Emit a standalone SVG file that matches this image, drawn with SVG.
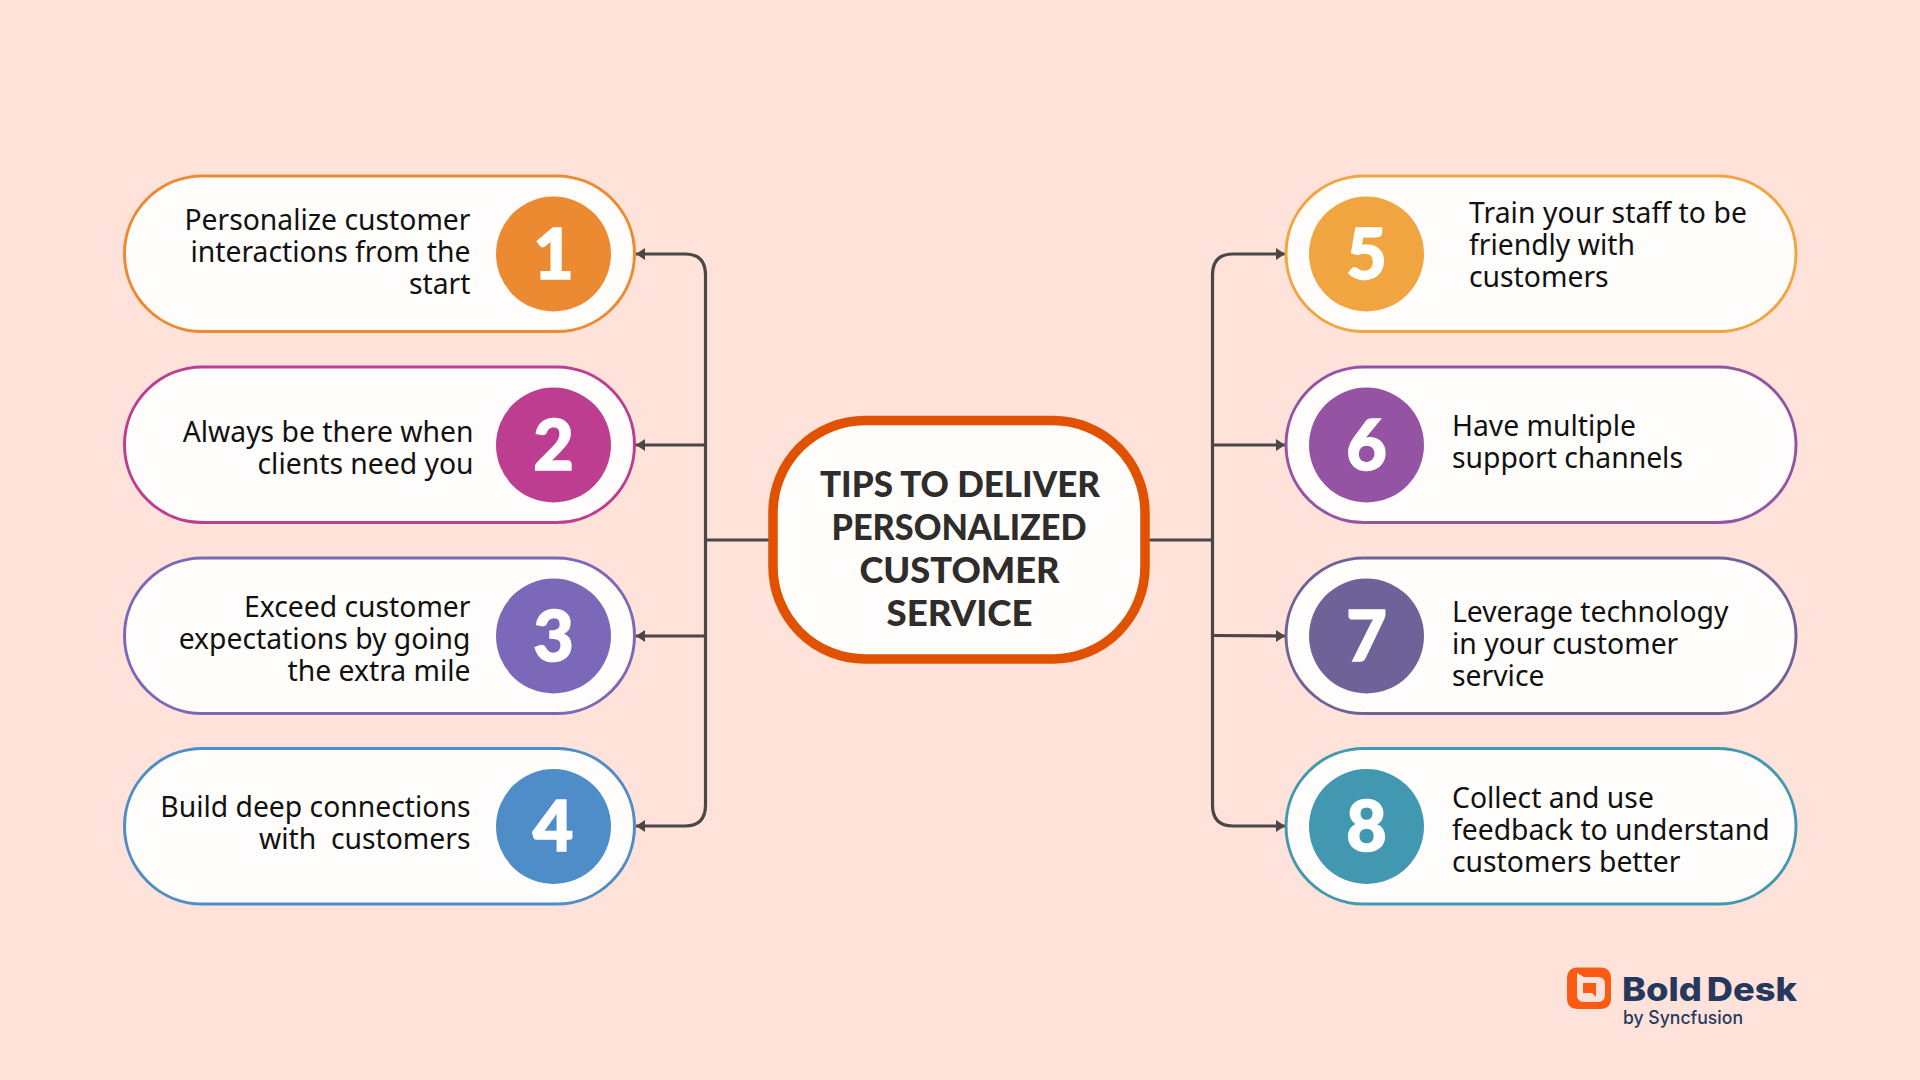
<svg xmlns="http://www.w3.org/2000/svg" width="1920" height="1080" viewBox="0 0 1920 1080">
<style>
.pill{fill:#fffdfb;stroke-width:3}
.t{font-family:"Noto Sans","Open Sans",sans-serif;font-size:28.300px;fill:#111}
.e{text-anchor:end}
.d{font-family:"Lato","Liberation Sans",sans-serif;font-weight:900;font-size:70px;fill:#fff;stroke:#fff;stroke-width:1.500;text-anchor:middle}
.h{font-family:"Lato","Liberation Sans",sans-serif;font-weight:900;font-size:36.500px;fill:#2f2d2c;text-anchor:middle}
.c{fill:none;stroke:#4a4746;stroke-width:3.200}
</style>
<defs>
<marker id="a" markerUnits="userSpaceOnUse" markerWidth="10" markerHeight="14" refX="9" refY="7" orient="auto"><path d="M0 1L9 7L0 13Z" fill="#4a4746"/></marker>
</defs>
<rect width="1920" height="1080" fill="#ffe2d9"/>
<g id="connectors">
<path class="c" d="M705.500 540H770"/>
<path class="c" d="M1148 540H1212.500"/>
<path class="c" d="M705.500 540V275Q705.500 254 685 254H636" marker-end="url(#a)"/>
<path class="c" d="M705.500 445H636" marker-end="url(#a)"/>
<path class="c" d="M705.500 636H636" marker-end="url(#a)"/>
<path class="c" d="M705.500 540V805Q705.500 826 685 826H636" marker-end="url(#a)"/>
<path class="c" d="M1212.500 540V275Q1212.500 254 1233 254H1285" marker-end="url(#a)"/>
<path class="c" d="M1212.500 445H1285" marker-end="url(#a)"/>
<path class="c" d="M1212.500 635.500L1285 636" marker-end="url(#a)"/>
<path class="c" d="M1212.500 540V805Q1212.500 826 1233 826H1285" marker-end="url(#a)"/>
</g>
<g id="center">
<rect x="773" y="420.500" width="372" height="238.500" rx="92" ry="92" fill="#fffdfb" stroke="#e05200" stroke-width="9.500"/>
<text class="h" x="960" y="496.500" textLength="280" lengthAdjust="spacingAndGlyphs">TIPS TO DELIVER</text>
<text class="h" x="959" y="539.500" textLength="255" lengthAdjust="spacingAndGlyphs">PERSONALIZED</text>
<text class="h" x="959.500" y="582.500" textLength="200" lengthAdjust="spacingAndGlyphs">CUSTOMER</text>
<text class="h" x="959.500" y="625.500" textLength="146" lengthAdjust="spacingAndGlyphs">SERVICE</text>
</g>
<g id="node1">
<rect class="pill" x="124.500" y="176" width="510" height="155.500" rx="77.750" stroke="#ec8a32"/>
<circle cx="553.500" cy="254" r="57.500" fill="#ec8a32"/>
<text class="d" x="553.500" y="278.500">1</text>
<text class="t e" x="470.500" y="230">Personalize customer</text>
<text class="t e" x="470.500" y="262">interactions from the</text>
<text class="t e" x="470.500" y="294">start</text>
</g>
<g id="node2">
<rect class="pill" x="124.500" y="367" width="510" height="155.500" rx="77.750" stroke="#bd3e91"/>
<circle cx="553.500" cy="445" r="57.500" fill="#bd3e91"/>
<text class="d" x="553.500" y="469.500">2</text>
<text class="t e" x="473.500" y="441.500">Always be there when</text>
<text class="t e" x="473.500" y="473.500">clients need you</text>
</g>
<g id="node3">
<rect class="pill" x="124.500" y="558" width="510" height="155.500" rx="77.750" stroke="#7b68b8"/>
<circle cx="553.500" cy="636" r="57.500" fill="#7b68b8"/>
<text class="d" x="553.500" y="660.500">3</text>
<text class="t e" x="470.500" y="616.500">Exceed customer</text>
<text class="t e" x="470.500" y="648.500">expectations by going</text>
<text class="t e" x="470.500" y="680.500">the extra mile</text>
</g>
<g id="node4">
<rect class="pill" x="124.500" y="748.500" width="510" height="155.500" rx="77.750" stroke="#4e8dc8"/>
<circle cx="553.500" cy="826.500" r="57.500" fill="#4e8dc8"/>
<text class="d" x="553" y="851">4</text>
<text class="t e" x="470.500" y="816.500">Build deep connections</text>
<text class="t e" x="470.500" y="848.500" xml:space="preserve">with  customers</text>
</g>
<g id="node5">
<rect class="pill" x="1286" y="176" width="510" height="155.500" rx="77.750" stroke="#f0a540"/>
<circle cx="1366.500" cy="254" r="57.500" fill="#f0a540"/>
<text class="d" x="1366.500" y="278.500">5</text>
<text class="t" x="1469" y="223" textLength="278" lengthAdjust="spacing">Train your staff to be</text>
<text class="t" x="1469" y="255">friendly with</text>
<text class="t" x="1469" y="287">customers</text>
</g>
<g id="node6">
<rect class="pill" x="1286" y="367" width="510" height="155.500" rx="77.750" stroke="#9553a4"/>
<circle cx="1366.500" cy="445" r="57.500" fill="#9553a4"/>
<text class="d" x="1366.500" y="469.500">6</text>
<text class="t" x="1452" y="436">Have multiple</text>
<text class="t" x="1452" y="468">support channels</text>
</g>
<g id="node7">
<rect class="pill" x="1286" y="558" width="510" height="155.500" rx="77.750" stroke="#6f6298"/>
<circle cx="1366.500" cy="636" r="57.500" fill="#6f6298"/>
<text class="d" x="1366.500" y="660.500">7</text>
<text class="t" x="1452" y="621.500">Leverage technology</text>
<text class="t" x="1452" y="653.500">in your customer</text>
<text class="t" x="1452" y="685.500">service</text>
</g>
<g id="node8">
<rect class="pill" x="1286" y="748.500" width="510" height="155.500" rx="77.750" stroke="#4298b0"/>
<circle cx="1366.500" cy="826.500" r="57.500" fill="#4298b0"/>
<text class="d" x="1366.500" y="851">8</text>
<text class="t" x="1452" y="807.500">Collect and use</text>
<text class="t" x="1452" y="839.500">feedback to understand</text>
<text class="t" x="1452" y="871.500">customers better</text>
</g>
<g id="logo">
<path fill="#fa5a14" fill-rule="evenodd" d="M1578 967.500H1600Q1611 967.500 1611 979V998Q1611 1009 1600 1009H1578Q1567 1009 1567 998V979Q1567 967.500 1578 967.500ZM1577 973V995Q1577 1002 1584 1002H1598Q1605 1002 1605 995V984Q1605 977 1598 977H1584Z"/>
<path fill="#fa5a14" d="M1583 983H1596V997L1592 993H1583Z"/>
<text x="1622" y="1001" font-family="Inter,'Liberation Sans',sans-serif" font-weight="800" font-size="33" fill="#25395f" textLength="175" lengthAdjust="spacingAndGlyphs" word-spacing="-3">Bold Desk</text>
<text x="1623" y="1024" font-family="Inter,'Liberation Sans',sans-serif" font-weight="500" font-size="18" fill="#25395f" textLength="120" lengthAdjust="spacingAndGlyphs">by Syncfusion</text>
</g>
</svg>
